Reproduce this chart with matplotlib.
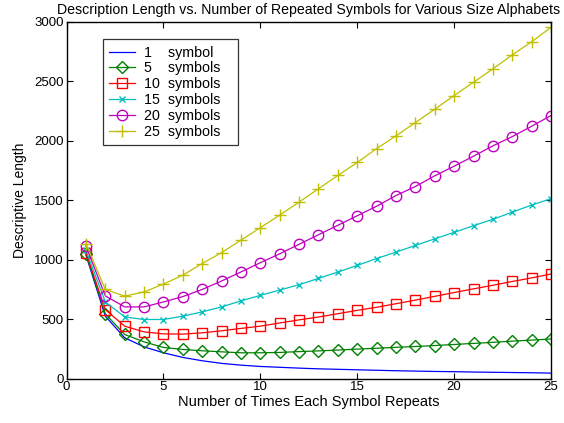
import matplotlib
matplotlib.use("Agg")
import matplotlib.pyplot as plt

plt.rcParams['font.family'] = ['Liberation Sans', 'DejaVu Sans']

repeats = list(range(1, 26))

sym1 = [1040, 525, 343, 267, 217, 178, 150, 128, 113, 102, 95, 88, 82, 78, 74,
        70, 66, 63, 60, 58, 55, 53, 51, 49, 46]
sym5 = [1050, 545, 371, 309, 262, 245, 234, 225, 217, 217, 220, 227, 233, 240, 248,
        255, 263, 270, 278, 287, 296, 305, 315, 324, 333]
sym10 = [1060, 580, 441, 393, 376, 374, 385, 402, 422, 441, 468, 494, 518, 546, 574,
         600, 630, 660, 692, 724, 755, 785, 817, 847, 880]
sym15 = [1080, 645, 519, 497, 497, 525, 561, 603, 654, 700, 745, 790, 843, 896, 952,
         1010, 1064, 1120, 1176, 1230, 1286, 1340, 1400, 1460, 1513]
sym20 = [1115, 696, 603, 603, 645, 690, 750, 821, 897, 975, 1050, 1130, 1210, 1290, 1370,
         1450, 1540, 1616, 1706, 1787, 1871, 1958, 2036, 2123, 2213]
sym25 = [1135, 750, 694, 729, 795, 870, 968, 1060, 1164, 1270, 1375, 1485, 1597, 1709, 1818,
         1935, 2042, 2154, 2266, 2381, 2493, 2605, 2723, 2834, 2955]

labels = ["1    symbol", "5    symbols", "10  symbols", "15  symbols", "20  symbols", "25  symbols"]

fig = plt.figure(figsize=(5.64, 4.23), dpi=100)
ax = fig.add_axes([0.118, 0.105, 0.859, 0.843])

ax.plot(repeats, sym1, color=(0, 0, 1), lw=0.9, label=labels[0])
ax.plot(repeats, sym5, color=(0, 0.5, 0), lw=0.9, marker='D', ms=6, mfc='none', label=labels[1])
ax.plot(repeats, sym10, color=(1, 0, 0), lw=0.9, marker='s', ms=7.5, mfc='none', label=labels[2])
ax.plot(repeats, sym15, color=(0, 0.75, 0.75), lw=0.9, marker='x', ms=4.5, label=labels[3])
ax.plot(repeats, sym20, color=(0.75, 0, 0.75), lw=0.9, marker='o', ms=7.5, mfc='none', label=labels[4])
ax.plot(repeats, sym25, color=(0.75, 0.75, 0), lw=0.9, marker='+', ms=8, label=labels[5])

ax.set_xlim(0, 25)
ax.set_ylim(0, 3000)
ax.set_xticks([0, 5, 10, 15, 20, 25])
ax.set_yticks([0, 500, 1000, 1500, 2000, 2500, 3000])
ax.tick_params(direction='in', top=True, right=True, labelsize=9.5, length=4, width=0.8, pad=2)
for s in ax.spines.values():
    s.set_linewidth(1.0)

ax.set_title("Description Length vs. Number of Repeated Symbols for Various Size Alphabets",
             fontsize=10.2, pad=6)
ax.set_xlabel("Number of Times Each Symbol Repeats", fontsize=10.5, labelpad=1)
ax.set_ylabel("Descriptive Length", fontsize=10, labelpad=5)

leg = ax.legend(loc='upper left', bbox_to_anchor=(0.075, 0.952), borderaxespad=0,
                fontsize=10.3, frameon=True, fancybox=False, edgecolor='black',
                borderpad=0.45, handlelength=1.8, labelspacing=0.13, handletextpad=0.6)
leg.get_frame().set_linewidth(0.9)
# widen the box on the right a little, like the original legend
leg._legend_box.sep = 0
for t in leg.get_texts():
    t.set_text(t.get_text() + "   ")

fig.savefig("out.png", dpi=100)
